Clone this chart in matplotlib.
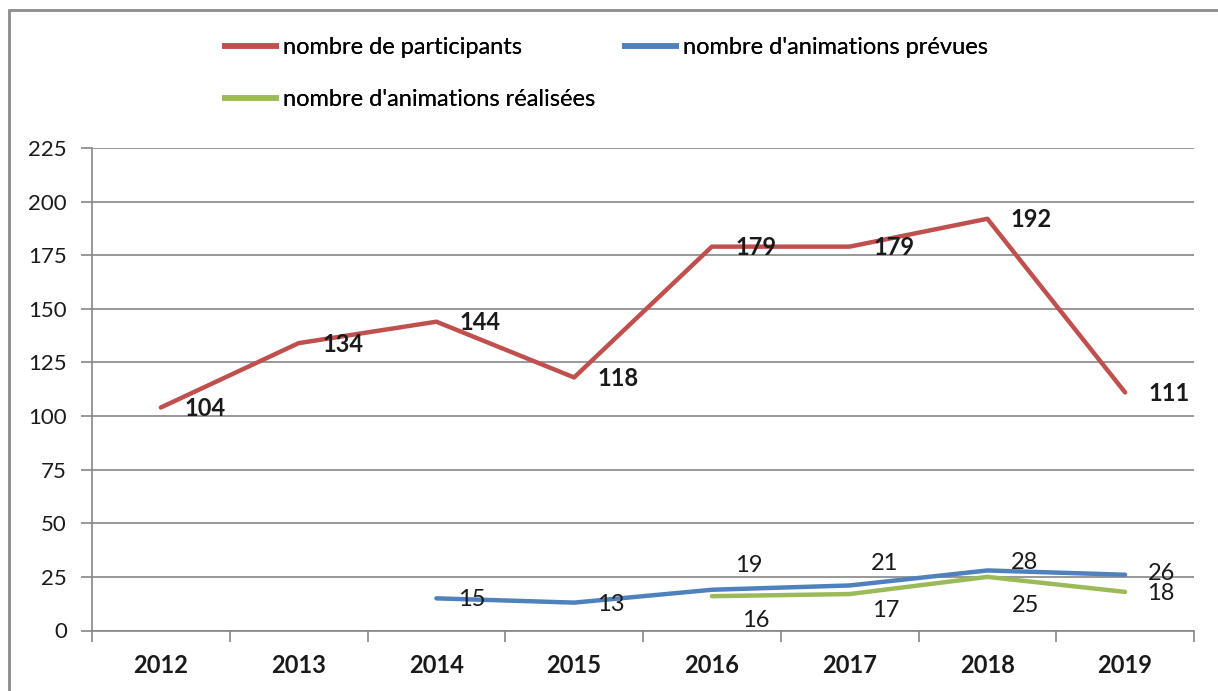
import matplotlib.pyplot as plt
from matplotlib.patches import Rectangle

annees = ['2012', '2013', '2014', '2015', '2016', '2017', '2018', '2019']
participants = [104, 134, 144, 118, 179, 179, 192, 111]
prevues = [None, None, 15, 13, 19, 21, 28, 26]
realisees = [None, None, None, None, 16, 17, 25, 18]

# decalage des etiquettes (pixels), comme deplacees a la main dans Excel
off_part = [(44, -1)] * 8
off_prev = [None, None, (35, -1), (37, -2), (37, 24), (35, 22), (37, 8), (36, 1)]
off_real = [None, None, None, None, (44, -24), (36, -16), (38, -29), (36, -2)]

plt.rcParams['font.family'] = ['Lato', 'DejaVu Sans']

rouge = '#C0504D'
bleu = '#4F81BD'
vert = '#9BBB59'
gris = '#868686'

W, H = 1218, 691
fig = plt.figure(figsize=(W / 100, H / 100), dpi=100)
ax = fig.add_axes([92 / W, 1 - 630.5 / H, (1194 - 92) / W, (630.5 - 148) / H])

x = list(range(len(annees)))

def serie(vals, couleur, label):
    xs = [i for i, v in zip(x, vals) if v is not None]
    ys = [v for v in vals if v is not None]
    l, = ax.plot(xs, ys, color=couleur, lw=3.2, label=label, solid_capstyle='round', zorder=3)
    return l

l1 = serie(participants, rouge, 'nombre de participants')
l2 = serie(prevues, bleu, "nombre d'animations prévues")
l3 = serie(realisees, vert, "nombre d'animations réalisées")

def etiquettes(vals, offs, gras):
    for i, (v, o) in enumerate(zip(vals, offs)):
        if v is None:
            continue
        ax.annotate(str(v), (i, v), xytext=o, textcoords='offset pixels',
                    ha='center', va='center', fontsize=17,
                    fontweight='bold' if gras else 'normal', color='#1a1a1a', zorder=4)

etiquettes(participants, off_part, True)
etiquettes(prevues, off_prev, False)
etiquettes(realisees, off_real, False)

ax.set_xlim(-0.5, 7.5)
ax.set_ylim(0, 225)
ax.set_yticks(range(0, 226, 25))
ax.yaxis.grid(True, color=gris, lw=1.2)
ax.set_axisbelow(True)

ax.set_xticks([i + 0.5 for i in range(-1, 8)])
ax.set_xticklabels([])
ax.set_xticks(x, minor=True)
ax.set_xticklabels(annees, minor=True, fontsize=17, fontweight='bold', color='#1a1a1a')
ax.tick_params(axis='x', which='major', length=8, color=gris, width=1.2, direction='out')
ax.tick_params(axis='x', which='minor', length=0, pad=17)
ax.tick_params(axis='y', length=8, color=gris, width=1.2, labelsize=16, labelcolor='#1a1a1a', pad=10)

for s in ['top', 'right']:
    ax.spines[s].set_visible(False)
for s in ['left', 'bottom']:
    ax.spines[s].set_color(gris)
    ax.spines[s].set_linewidth(1.2)

# legende : une entree a la fois, placee comme dans Excel
for h, (px, py) in [(l1, (222, 48)), (l2, (622, 48)), (l3, (222, 100))]:
    lg = fig.legend([h], [h.get_label()], loc='center left', bbox_to_anchor=(px / W, 1 - py / H),
                    frameon=False, fontsize=17, handlelength=2.4, handletextpad=0.2,
                    borderpad=0, borderaxespad=0)
    for hl in lg.get_lines():
        hl.set_linewidth(4)
        hl.set_solid_capstyle('butt')
    fig.add_artist(lg)

fig.patches.append(Rectangle((9 / W, -0.1), 1.2, 1 - 10 / H + 0.1, transform=fig.transFigure,
                             fill=False, edgecolor='#8c8c8c', lw=2))

fig.savefig('out.png', dpi=100)
